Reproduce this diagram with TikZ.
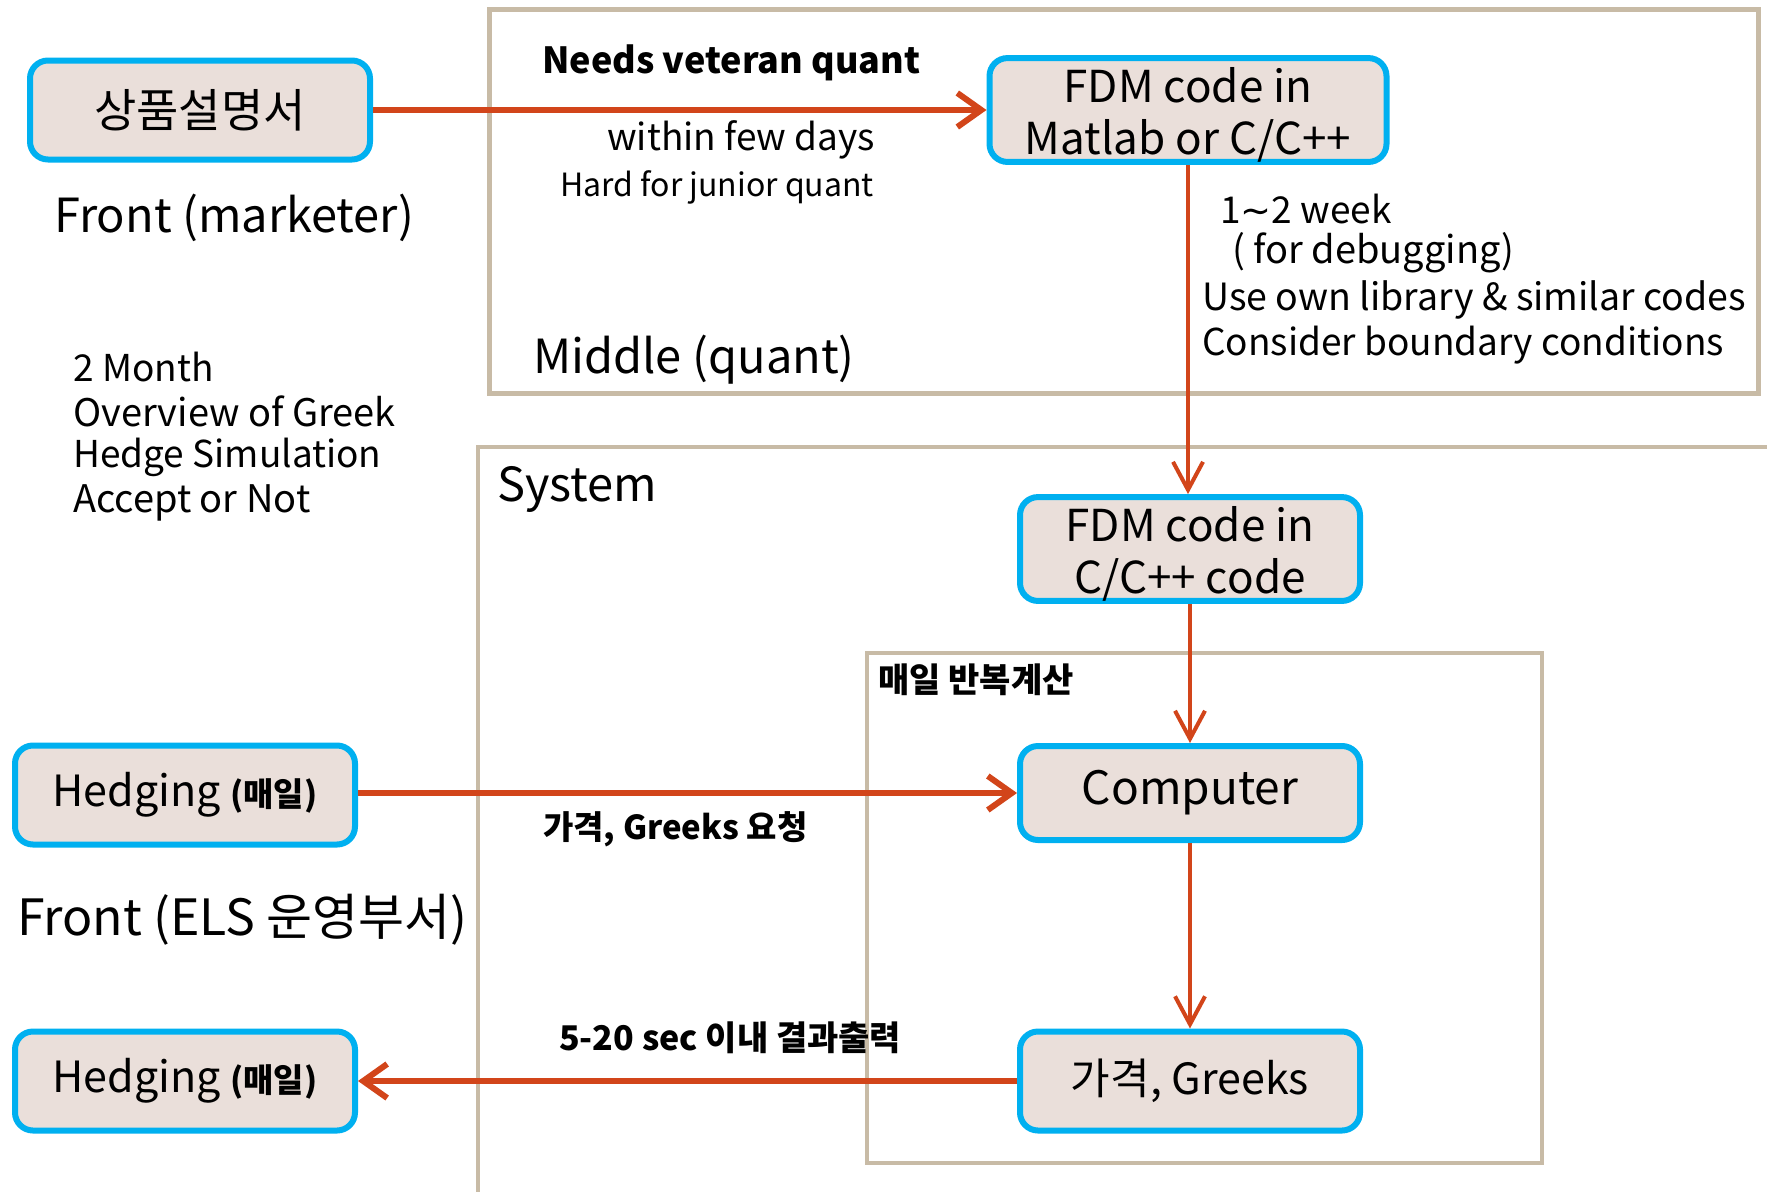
\documentclass[tikz,border=0pt]{standalone}
\usepackage{fontspec}
\setmainfont{Noto Sans CJK KR}
\newfontfamily\symfont{DejaVu Sans}
\usetikzlibrary{arrows.meta}
\definecolor{boxfill}{HTML}{EADFDA}
\definecolor{boxline}{HTML}{00B0F0}
\definecolor{arrcol}{HTML}{D2451A}
\definecolor{framecol}{HTML}{C8BBA6}
\newcommand{\fs}[1]{\fontsize{#1}{#1}\selectfont}
\begin{document}
\begin{tikzpicture}[x=1pt,y=-1pt,
  procbox/.style={draw=boxline, fill=boxfill, line width=6pt, rounded corners=18pt,
    minimum width=340pt, minimum height=99pt, align=center, inner sep=0pt, font=\fs{43}},
  frameline/.style={draw=framecol, line width=5pt},
  flow/.style={draw=arrcol, line width=6pt, -{Straight Barb[length=24pt,width=34pt]}},
  vflow/.style={draw=arrcol, line width=4pt, -{Straight Barb[length=28pt,width=30pt]}},
  lbl/.style={anchor=west, inner sep=0pt, align=left}]
\useasboundingbox (0,0) rectangle (1767,1192);
\fill[white] (0,0) rectangle (1767,1192);
% frames
\draw[frameline] (489,9) rectangle (1758,393);
\draw[frameline, line width=4pt] (1767,447) -- (478,447) -- (478,1192);
\draw[frameline, line width=4pt] (867,653) rectangle (1542,1163);
% boxes
\node[procbox, minimum width=340pt, font=\fs{46}] (prod) at (200,110) {상품설명서};
\node[procbox, minimum width=397pt, font=\fs{44}] (fdm1) at (1188,110) {\rule{0pt}{44pt}FDM code in\\[8pt]Matlab or C/C++};
\node[procbox, font=\fs{44}] (fdm2) at (1190,549) {\rule{0pt}{44pt}FDM code in\\[8pt]C/C++ code};
\node[procbox, minimum height=94pt, font=\fs{46}] (comp) at (1190,793) {Computer};
\node[procbox] (greeks) at (1190,1081) {가격, Greeks};
\node[procbox] (hedge1) at (185,795) {Hedging {\bfseries\fs{33}(매일)}};
\node[procbox] (hedge2) at (185,1081) {Hedging {\bfseries\fs{33}(매일)}};
% connectors
\draw[flow] (prod.east) -- (fdm1.west);
\draw[vflow] (fdm1.south) -- (fdm1.south |- fdm2.north);
\draw[vflow] (fdm2.south) -- (comp.north);
\draw[vflow] (comp.south) -- (greeks.north);
\draw[flow] (hedge1.east |- comp.west) -- (comp.west);
\draw[flow] (greeks.west) -- (hedge2.east);
% labels
\node[lbl, font=\bfseries\fs{36}] (t1) at (542,63) {Needs veteran quant};
\node[lbl, font=\fs{37}] (t2) at (607,140) {within few days};
\node[lbl, font=\fs{32}] (t3) at (560,187) {Hard for junior quant};
\node[lbl, font=\fs{37}] (t4) at (1220,209) {1{\symfont ∼}2 week};
\node[lbl, font=\fs{38}] (t5) at (1232,253) {( for debugging)};
\node[lbl, font=\fs{37.5}] (t6) at (1202,300) {Use own library \& similar codes};
\node[lbl, font=\fs{37}] (t7) at (1202,345) {Consider boundary conditions};
\node[lbl, font=\fs{47}] (t8) at (533,360) {Middle (quant)};
\node[lbl, font=\fs{47}] (t9) at (54,218) {Front (marketer)};
\node[lbl, font=\fs{37}] (t10) at (73,367) {2 Month};
\node[lbl, font=\fs{38}] (t11) at (73,411) {Overview of Greek};
\node[lbl, font=\fs{37}] (t12) at (73,457) {Hedge Simulation};
\node[lbl, font=\fs{38}] (t13) at (73,503) {Accept or Not};
\node[lbl, font=\fs{47}] (t14) at (497,489) {System};
\node[lbl, font=\bfseries\fs{34}] (t15) at (878,680) {매일 반복계산};
\node[lbl, font=\bfseries\fs{33}] (t16) at (543,829) {가격, Greeks 요청};
\node[lbl, font=\fs{50}] (t17) at (17,920) {Front (ELS 운영부서)};
\node[lbl, font=\bfseries\fs{34}] (t18) at (559,1038) {5-20 sec 이내 결과출력};
\end{tikzpicture}
\end{document}
